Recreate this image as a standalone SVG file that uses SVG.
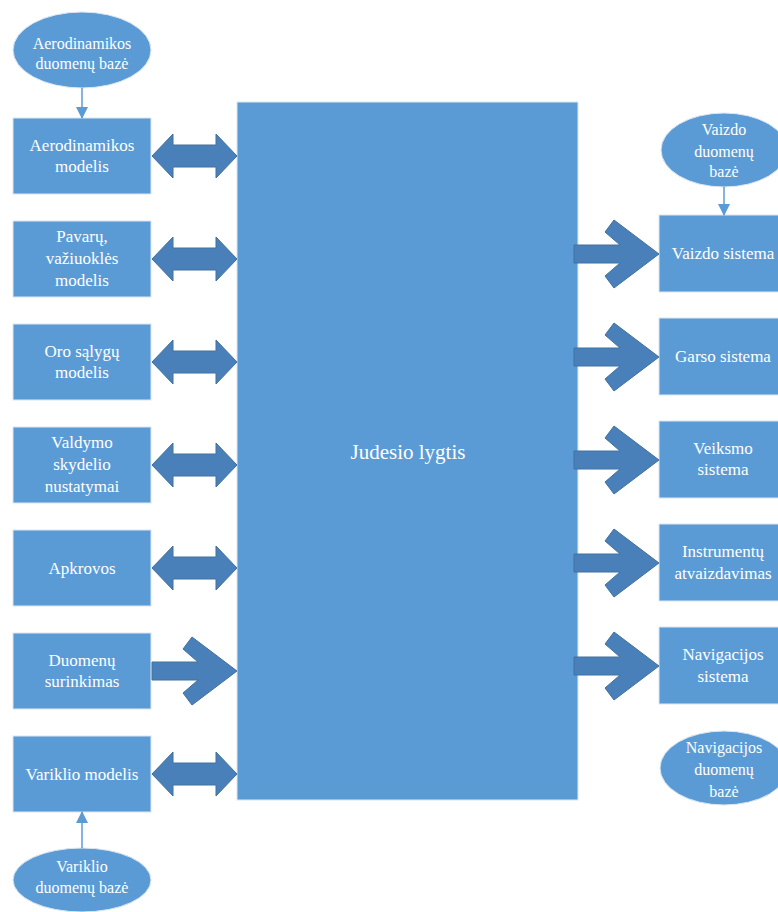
<svg xmlns="http://www.w3.org/2000/svg" xmlns:xlink="http://www.w3.org/1999/xlink" width="778" height="912" viewBox="0 0 778 912">
<style>
.box{fill:#5B9BD5;stroke:#DCE6F2;stroke-width:1}
.ell{fill:#5B9BD5;stroke:#DCE6F2;stroke-width:1}
.t{font-family:'Liberation Serif','DejaVu Serif',serif;font-size:17px;fill:#FFFFFF;text-anchor:middle}
.te{font-family:'Liberation Serif','DejaVu Serif',serif;font-size:16px;fill:#FFFFFF;text-anchor:middle}
.big{font-family:'Liberation Serif','DejaVu Serif',serif;font-size:21px;fill:#FFFFFF;text-anchor:middle}
.blk{fill:#4A80BA;stroke:#41719C;stroke-width:1}
.ln{stroke:#5B9BD5;stroke-width:1.5;fill:none}
</style>
<defs>
<marker id="ah" markerWidth="12" markerHeight="12" refX="11" refY="6" orient="auto" markerUnits="userSpaceOnUse">
<path d="M0,0 L12,6 L0,12 Z" fill="#5B9BD5"/>
</marker>
<path id="dbl" d="M152,0 L173,-22 L173,-11 L216,-11 L216,-22 L237,0 L216,22 L216,11 L173,11 L173,22 Z"/>
<path id="sgl" d="M-85,-9 H-39 L-54,-22 L-45,-34 L0,0 L-45,34 L-54,22 L-39,9 H-85 Z"/>
</defs>
<rect width="778" height="912" fill="#FFFFFF"/>

<g id="judesio-lygtis">
<rect class="box" x="237" y="102" width="341" height="698"/>
<text class="big" x="408" y="459">Judesio lygtis</text>
</g>

<g id="aero-db">
<ellipse class="ell" cx="82" cy="50" rx="69" ry="38"/>
<text class="te" x="82" y="49">Aerodinamikos</text>
<text class="te" x="82" y="69">duomenų bazė</text>
</g>
<g id="aero-model">
<rect class="box" x="13" y="118" width="138" height="76"/>
<text class="t" x="82" y="151">Aerodinamikos</text>
<text class="t" x="82" y="172">modelis</text>
</g>
<g id="pavaru">
<rect class="box" x="13" y="221" width="138" height="76"/>
<text class="t" x="82" y="242">Pavarų,</text>
<text class="t" x="82" y="264">važiuoklės</text>
<text class="t" x="82" y="286">modelis</text>
</g>
<g id="oro">
<rect class="box" x="13" y="324" width="138" height="76"/>
<text class="t" x="82" y="357">Oro sąlygų</text>
<text class="t" x="82" y="378">modelis</text>
</g>
<g id="valdymo">
<rect class="box" x="13" y="427" width="138" height="76"/>
<text class="t" x="82" y="448">Valdymo</text>
<text class="t" x="82" y="470">skydelio</text>
<text class="t" x="82" y="492">nustatymai</text>
</g>
<g id="apkrovos">
<rect class="box" x="13" y="530" width="138" height="76"/>
<text class="t" x="82" y="574">Apkrovos</text>
</g>
<g id="duomenu-surinkimas">
<rect class="box" x="13" y="633" width="138" height="76"/>
<text class="t" x="82" y="666">Duomenų</text>
<text class="t" x="82" y="687">surinkimas</text>
</g>
<g id="variklio-modelis">
<rect class="box" x="13" y="736" width="138" height="76"/>
<text class="t" x="82" y="780">Variklio modelis</text>
</g>
<g id="variklio-db">
<ellipse class="ell" cx="82" cy="880" rx="69" ry="32"/>
<text class="te" x="82" y="872">Variklio</text>
<text class="te" x="82" y="893">duomenų bazė</text>
</g>

<g id="vaizdo-db">
<ellipse class="ell" cx="724" cy="150" rx="63" ry="37"/>
<text class="te" x="724" y="135">Vaizdo</text>
<text class="te" x="724" y="157">duomenų</text>
<text class="te" x="724" y="177">bazė</text>
</g>
<g id="vaizdo-sistema">
<rect class="box" x="659" y="215" width="138" height="77"/>
<text class="t" x="723" y="259">Vaizdo sistema</text>
</g>
<g id="garso-sistema">
<rect class="box" x="659" y="318" width="138" height="77"/>
<text class="t" x="723" y="362">Garso sistema</text>
</g>
<g id="veiksmo-sistema">
<rect class="box" x="659" y="421" width="138" height="77"/>
<text class="t" x="723" y="454">Veiksmo</text>
<text class="t" x="723" y="475">sistema</text>
</g>
<g id="instrumentu">
<rect class="box" x="659" y="524" width="138" height="77"/>
<text class="t" x="723" y="557">Instrumentų</text>
<text class="t" x="723" y="579">atvaizdavimas</text>
</g>
<g id="navigacijos-sistema">
<rect class="box" x="659" y="627" width="138" height="77"/>
<text class="t" x="723" y="660">Navigacijos</text>
<text class="t" x="723" y="682">sistema</text>
</g>
<g id="navigacijos-db">
<ellipse class="ell" cx="724" cy="768" rx="64" ry="37"/>
<text class="te" x="724" y="753">Navigacijos</text>
<text class="te" x="724" y="775">duomenų</text>
<text class="te" x="724" y="797">bazė</text>
</g>

<g id="connectors">
<line class="ln" x1="82" y1="88" x2="82" y2="118" marker-end="url(#ah)"/>
<line class="ln" x1="724" y1="187" x2="724" y2="215" marker-end="url(#ah)"/>
<line class="ln" x1="82" y1="848" x2="82" y2="812" marker-end="url(#ah)"/>
<use xlink:href="#dbl" class="blk" transform="translate(0,156)"/>
<use xlink:href="#dbl" class="blk" transform="translate(0,259)"/>
<use xlink:href="#dbl" class="blk" transform="translate(0,362)"/>
<use xlink:href="#dbl" class="blk" transform="translate(0,465)"/>
<use xlink:href="#dbl" class="blk" transform="translate(0,568)"/>
<use xlink:href="#dbl" class="blk" transform="translate(0,774)"/>
<use xlink:href="#sgl" class="blk" transform="translate(237,671)"/>
<use xlink:href="#sgl" class="blk" transform="translate(659,254)"/>
<use xlink:href="#sgl" class="blk" transform="translate(659,357)"/>
<use xlink:href="#sgl" class="blk" transform="translate(659,460)"/>
<use xlink:href="#sgl" class="blk" transform="translate(659,563)"/>
<use xlink:href="#sgl" class="blk" transform="translate(659,666)"/>
</g>
</svg>
